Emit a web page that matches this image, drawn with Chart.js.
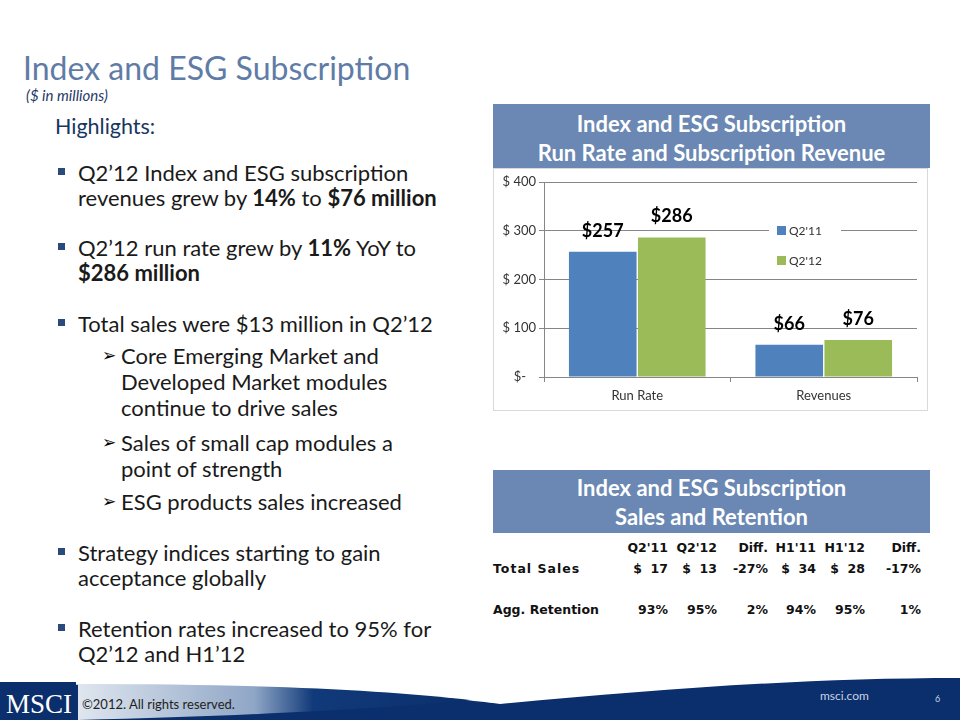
<!DOCTYPE html>
<html>
<head>
<meta charset="utf-8">
<script src="https://cdn.jsdelivr.net/npm/chart.js@4"></script>
<style>
  body { margin:0; width:960px; height:720px; position:relative; overflow:hidden; background:#fff; font-family:Lato, 'Open Sans', sans-serif; }
  .abs { position:absolute; }
  #title { left:23px; top:48px; font-size:32px; color:#5f7ca6; white-space:nowrap; }
  #sub { left:26px; top:86px; font-size:15px; font-style:italic; color:#1f3a68; }
  #hl { left:55px; top:113px; font-size:21.5px; color:#17375e; }
  .bl { font-size:22px; color:#1a1a1a; line-height:25px; white-space:nowrap; }
  .sq { position:absolute; width:7px; height:7px; background:#2a4a7c; }
  .arr { position:absolute; font-family:'DejaVu Sans', sans-serif; font-size:17px; color:#000; }
  .hdr { left:493px; width:437px; background:#6a88b3; color:#fff; font-weight:bold; font-size:22px; text-align:center; line-height:29px; }
  #box { left:493px; top:168px; width:435px; height:243px; border:1px solid #d9d9d9; box-sizing:border-box; }
  .tc { position:absolute; font-family:'DejaVu Sans', sans-serif; font-size:12.5px; font-weight:bold; color:#111; text-align:right; white-space:nowrap; }
</style>
</head>
<body>
<div id="title" class="abs">Index and ESG Subscription</div>
<div id="sub" class="abs">($ in millions)</div>
<div id="hl" class="abs">Highlights:</div>

<div class="sq" style="left:58px;top:168px"></div>
<div class="abs bl" style="left:78px;top:160px">Q2’12 Index and ESG subscription<br>revenues grew by <b>14%</b> to <b>$76 million</b></div>
<div class="sq" style="left:58px;top:243px"></div>
<div class="abs bl" style="left:78px;top:235px">Q2’12 run rate grew by <b>11%</b> YoY to<br><b>$286 million</b></div>
<div class="sq" style="left:58px;top:319px"></div>
<div class="abs bl" style="left:78px;top:311px">Total sales were $13 million in Q2’12</div>
<div class="arr" style="left:102px;top:345px">➢</div>
<div class="abs bl" style="left:121px;top:343px;line-height:26px">Core Emerging Market and<br>Developed Market modules<br>continue to drive sales</div>
<div class="arr" style="left:102px;top:432px">➢</div>
<div class="abs bl" style="left:121px;top:430px;line-height:26px">Sales of small cap modules a<br>point of strength</div>
<div class="arr" style="left:102px;top:491px">➢</div>
<div class="abs bl" style="left:121px;top:489px">ESG products sales increased</div>
<div class="sq" style="left:58px;top:548px"></div>
<div class="abs bl" style="left:78px;top:540px">Strategy indices starting to gain<br>acceptance globally</div>
<div class="sq" style="left:58px;top:624px"></div>
<div class="abs bl" style="left:78px;top:616px">Retention rates increased to 95% for<br>Q2’12 and H1’12</div>

<div class="abs hdr" style="top:104px;height:64px;padding-top:5px;box-sizing:border-box">Index and ESG Subscription<br>Run Rate and Subscription Revenue</div>
<div id="box" class="abs"><canvas id="chart" width="433" height="241"></canvas></div>

<div class="abs hdr" style="top:470px;height:63px;padding-top:3px;box-sizing:border-box">Index and ESG Subscription<br>Sales and Retention</div>
<div id="tbl"></div>

<svg class="abs" style="left:0;top:668px" width="960" height="52">
  <defs>
    <linearGradient id="lg" x1="0" x2="1" y1="0" y2="0">
      <stop offset="0" stop-color="#dfe6ef"/>
      <stop offset="0.45" stop-color="#8fa6c6"/>
      <stop offset="0.6" stop-color="#113a7a"/>
      <stop offset="1" stop-color="#0b2f6c"/>
    </linearGradient>
  </defs>
  <path d="M0,16 C300,18 420,26 500,36 C650,22 800,10 960,10 L960,52 L0,52 Z" fill="#0b2f6c"/>
  <path d="M78,16 C260,16 380,22 470,32 C390,40 250,48 78,52 Z" fill="url(#lg)"/>
  <rect x="0" y="14" width="76" height="38" fill="#0b2f6c"/>
  <text x="6" y="45" font-family="'Liberation Serif', serif" font-size="27" fill="#fff">MSCI</text>
  <text x="82" y="41" font-family="Lato, sans-serif" font-size="13" fill="#222">©2012. All rights reserved.</text>
  <text x="820" y="32" font-family="Lato, sans-serif" font-size="12" fill="#c8d3e4">msci.com</text>
  <text x="935" y="34" font-family="Lato, sans-serif" font-size="9" fill="#c8d3e4">6</text>
</svg>

<script>
// chart values
const categories = ['Run Rate', 'Revenues'];
const q211 = [257, 66];
const q212 = [286, 76];
const seriesNames = ["Q2'11", "Q2'12"];
const yTicks = [0, 100, 200, 300, 400];

// table values
const tblHeads = ["Q2'11", "Q2'12", 'Diff.', "H1'11", "H1'12", 'Diff.'];
const totalSales = ['$  17', '$  13', '-27%', '$  34', '$  28', '-17%'];
const aggRetention = ['93%', '95%', '2%', '94%', '95%', '1%'];

const BLUE = '#4f81bd', GREEN = '#9bbb59';
const FONT = "Lato, 'Open Sans', sans-serif";

// ── table ──
(function buildTable() {
  const colRight = [668, 717, 768, 816, 865, 921];
  let html = '';
  const row = (vals, top) => vals.forEach((v, i) => {
    html += `<div class="tc" style="right:${960 - colRight[i]}px;top:${top}px">${v.replace(/ /g,'&nbsp;')}</div>`;
  });
  row(tblHeads, 540);
  html += `<div class="tc" style="left:493px;top:561px;text-align:left;letter-spacing:1px">Total Sales</div>`;
  row(totalSales, 561);
  html += `<div class="tc" style="left:493px;top:602px;text-align:left">Agg. Retention</div>`;
  row(aggRetention, 602);
  document.getElementById('tbl').innerHTML = html;
})();

// ── bar labels ──
const valueLabels = {
  id: 'valueLabels',
  afterDatasetsDraw(chart) {
    const { ctx } = chart;
    ctx.save();
    ctx.font = `bold 18px ${FONT}`;
    ctx.fillStyle = '#000';
    ctx.textAlign = 'center';
    ctx.textBaseline = 'bottom';
    chart.data.datasets.forEach((ds, di) => {
      chart.getDatasetMeta(di).data.forEach((bar, i) => {
        ctx.fillText('$' + ds.data[i], bar.x, bar.y - 12);
      });
    });
    ctx.restore();
  }
};

// ── legend inside plot ──
const innerLegend = {
  id: 'innerLegend',
  afterDatasetsDraw(chart) {
    const { ctx } = chart;
    const x0 = 283, y0 = 61;
    ctx.save();
    ctx.fillStyle = '#fff';
    ctx.fillRect(x0 - 8, y0 - 13, 72, 58);
    ctx.font = `12px ${FONT}`;
    ctx.textBaseline = 'middle';
    chart.data.datasets.forEach((ds, i) => {
      const y = y0 + i * 30;
      ctx.fillStyle = ds.backgroundColor;
      ctx.fillRect(x0, y - 4, 9, 9);
      ctx.fillStyle = '#333';
      ctx.fillText(ds.label, x0 + 12, y + 1);
    });
    ctx.restore();
  }
};

new Chart(document.getElementById('chart'), {
  type: 'bar',
  data: {
    labels: categories,
    datasets: [
      { label: seriesNames[0], data: q211, backgroundColor: BLUE },
      { label: seriesNames[1], data: q212, backgroundColor: GREEN }
    ]
  },
  options: {
    responsive: false, animation: false,
    categoryPercentage: 0.74, barPercentage: 0.98,
    layout: { padding: { top: 13, right: 10, bottom: 3, left: 0 } },
    plugins: { legend: { display: false }, tooltip: { enabled: false } },
    scales: {
      x: {
        grid: { display: true, drawOnChartArea: false, color: '#868686', tickLength: 5, offset: true },
        border: { color: '#868686' },
        ticks: { color: '#333', font: { family: FONT, size: 13 }, padding: 6 },
        afterFit: s => { s.height = 30; }
      },
      y: {
        min: 0, max: 400,
        afterBuildTicks: s => { s.ticks = yTicks.map(v => ({ value: v })); },
        grid: { color: '#868686', tickLength: 5 },
        border: { color: '#868686' },
        ticks: {
          color: '#333', font: { family: FONT, size: 13 }, padding: 3,
          callback: v => v === 0 ? '$-   ' : '$ ' + v
        },
        afterFit: s => { s.width = 50; }
      }
    }
  },
  plugins: [valueLabels, innerLegend]
});
</script>
</body>
</html>
